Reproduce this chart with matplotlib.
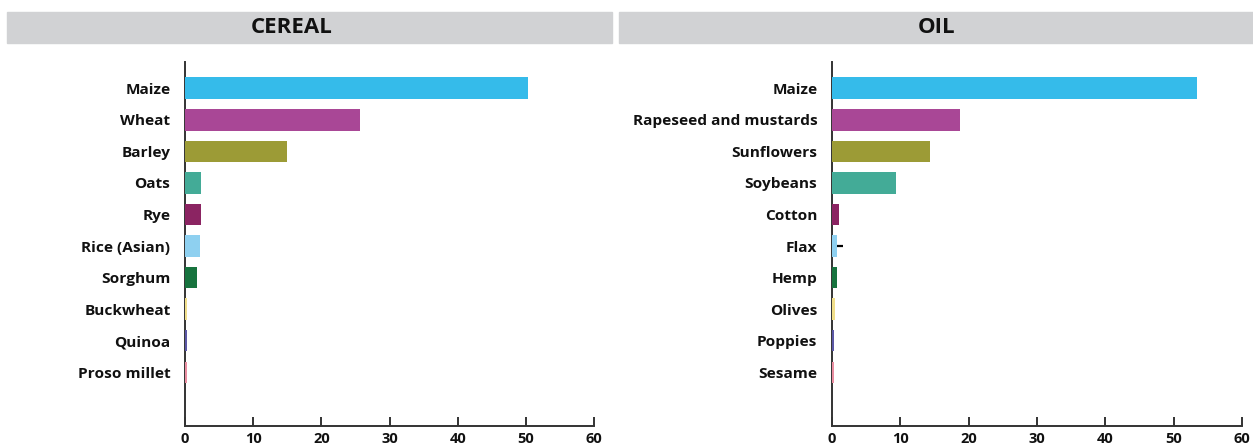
import matplotlib.pyplot as plt
from matplotlib.patches import Rectangle

plt.rcParams['font.family'] = ['Open Sans', 'DejaVu Sans']

# Cereal crops
cereal_names = ['Maize', 'Wheat', 'Barley', 'Oats', 'Rye', 'Rice (Asian)',
                'Sorghum', 'Buckwheat', 'Quinoa', 'Proso millet']
cereal_vals = [50.3, 25.6, 15.0, 2.4, 2.3, 2.2, 1.8, 0.35, 0.3, 0.3]

# Oil crops
oil_names = ['Maize', 'Rapeseed and mustards', 'Sunflowers', 'Soybeans', 'Cotton',
             'Flax', 'Hemp', 'Olives', 'Poppies', 'Sesame']
oil_vals = [53.4, 18.7, 14.4, 9.4, 1.05, 0.8, 0.7, 0.5, 0.35, 0.35]
flax_err = 0.85

colors = ['#35bbea', '#a94796', '#9c9b36', '#43ab97', '#8b2462',
          '#8ed0f0', '#17733e', '#f0de8a', '#5b57a5', '#e98da0']

xticks = [0, 10, 20, 30, 40, 50, 60]

fig = plt.figure(figsize=(12.53, 4.47), dpi=100)
W, H = 1253, 447

# grey title bands
for (x0, x1, label, cx) in [(7, 612, 'CEREAL', 292), (619, 1253, 'OIL', 937)]:
    fig.patches.append(Rectangle((x0 / W, 1 - 43 / H), (x1 - x0) / W, 31 / H,
                                 transform=fig.transFigure, color='#d1d2d4', zorder=0))
    fig.text(cx / W, 1 - 27.5 / H, label, ha='center', va='center',
             fontsize=16, fontweight='bold', color='#111111')

bottom = 1 - 426 / H
top = 1 - 62 / H


def panel(x0, x1, names, vals):
    ax = fig.add_axes([x0 / W, bottom, (x1 - x0) / W, top - bottom])
    ypos = list(range(len(names)))
    ax.barh(ypos, vals, height=0.68, color=colors, linewidth=0, zorder=3)
    ax.set_xlim(0, 60)
    ax.set_ylim(10.7, -0.83)
    ax.set_yticks(ypos)
    ax.set_yticklabels(names, fontsize=11.1, fontweight='bold', color='#111111')
    ax.set_xticks(xticks)
    ax.set_xticklabels([str(t) for t in xticks], fontsize=10.5, fontweight='bold',
                       color='#111111')
    ax.tick_params(axis='y', length=0, pad=10.5)
    ax.tick_params(axis='x', direction='in', length=6.5, width=1.4, color='#333333', pad=4)
    for s in ['top', 'right']:
        ax.spines[s].set_visible(False)
    for s in ['left', 'bottom']:
        ax.spines[s].set_color('#333333')
        ax.spines[s].set_linewidth(1.4)
        ax.spines[s].set_zorder(2)
    return ax


panel(185, 594, cereal_names, cereal_vals)
ax2 = panel(832, 1242, oil_names, oil_vals)
ax2.errorbar([oil_vals[5]], [5], xerr=[[0], [flax_err]], fmt='none',
             ecolor='black', elinewidth=1.6, capsize=0, zorder=4)

fig.savefig('out.png', dpi=100)
